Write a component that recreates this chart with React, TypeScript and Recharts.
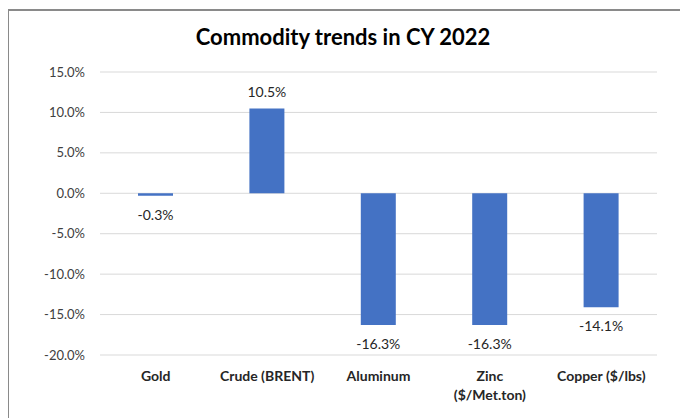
import { BarChart, Bar, XAxis, YAxis, CartesianGrid, LabelList } from "recharts";

const commodities = ["Gold", "Crude (BRENT)", "Aluminum", "Zinc\n($/Met.ton)", "Copper ($/lbs)"];
const changePct = [-0.3, 10.5, -16.3, -16.3, -14.1];
const yTicks = [-20, -15, -10, -5, 0, 5, 10, 15];

const data = commodities.map((name, i) => ({ name, value: changePct[i] }));

const FONT = "Lato, 'Open Sans', sans-serif";

function CategoryTick(props: any) {
  const { x, y, payload } = props;
  const lines = String(payload.value).split("\n");
  return (
    <text x={x} y={y} textAnchor="middle" fontFamily={FONT} fontSize={14} fontWeight={700} fill="#262626">
      {lines.map((line, i) => (
        <tspan key={i} x={x} dy={i === 0 ? 10 : 19}>
          {line}
        </tspan>
      ))}
    </text>
  );
}

function ValueLabel(props: any) {
  const { x, y, width, height, value } = props;
  const top = Math.min(y, y + height);
  const bottom = Math.max(y, y + height);
  const cx = x + width / 2;
  const ty = value >= 0 ? top - 11 : bottom + 24;
  return (
    <text x={cx} y={ty} textAnchor="middle" fontFamily={FONT} fontSize={14} fill="#262626">
      {`${value.toFixed(1)}%`}
    </text>
  );
}

export default function App() {
  return (
    <div
      style={{
        position: "relative",
        width: 680,
        height: 407,
        margin: "1px 0 0 -1px",
        borderTop: "2px solid #8a8a8a",
        borderLeft: "2px solid #8a8a8a",
        background: "#fff",
      }}
    >
      <div
        style={{
          position: "absolute",
          left: 0,
          width: 668,
          top: 12,
          textAlign: "center",
          fontFamily: FONT,
          fontWeight: 700,
          fontSize: 22,
          color: "#000",
        }}
      >
        Commodity trends in CY 2022
      </div>
      <BarChart
        width={680}
        height={407}
        data={data}
        margin={{ top: 61, right: 32, bottom: 3, left: 0 }}
      >
        <CartesianGrid vertical={false} stroke="#d9d9d9" />
        <XAxis
          dataKey="name"
          axisLine={false}
          tickLine={false}
          interval={0}
          orientation="bottom"
          tick={<CategoryTick />}
          height={60}
          tickMargin={10}
        />
        <YAxis
          width={91}
          domain={[-20, 15]}
          ticks={yTicks}
          axisLine={false}
          tickLine={false}
          tickMargin={9}
          tickFormatter={(v: number) => `${v.toFixed(1)}%`}
          tick={{ fontFamily: FONT, fontSize: 13, fill: "#404040" }}
        />
        <Bar dataKey="value" fill="#4472c4" barSize={35} isAnimationActive={false}>
          <LabelList dataKey="value" content={<ValueLabel />} />
        </Bar>
      </BarChart>
    </div>
  );
}
